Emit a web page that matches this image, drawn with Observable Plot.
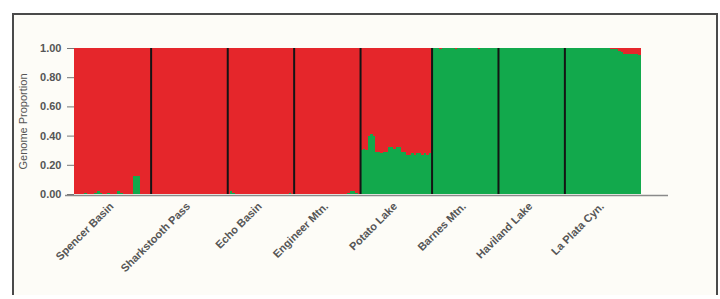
<!DOCTYPE html>
<html>
<head>
<meta charset="utf-8">
<script src="https://cdn.jsdelivr.net/npm/d3@7"></script>
<script src="https://cdn.jsdelivr.net/npm/@observablehq/plot@0.6"></script>
<style>
  html, body { margin: 0; padding: 0; background: #ffffff; }
  #wrap { position: relative; width: 720px; height: 299px; overflow: hidden; }
  #frame { position: absolute; left: 12px; top: 13px; width: 702px; height: 280px;
           border-left: 2px solid #4a4a4a; border-top: 2px solid #4a4a4a; border-right: 2px solid #4a4a4a;
           background: #fdfcf7; }
  #chart { position: absolute; left: 0; top: 0; }
</style>
</head>
<body>
<div id="wrap"><div id="frame"></div><div id="chart"></div></div>
<script>
// Populations (x-axis labels)
const populations = ["Spencer Basin", "Sharkstooth Pass", "Echo Basin", "Engineer Mtn.", "Potato Lake", "Barnes Mtn.", "Haviland Lake", "La Plata Cyn."];

// Green-cluster proportion per individual, one array per population (rest is red cluster)
const spencerBasin = [0,0,0,0,0.01,0,0,0,0.01,0.02,0.01,0,0,0.01,0,0,0,0.02,0.01,0,0,0,0,0.12,0.12,0.12,0,0,0,0];
const sharkstoothPass = [0,0,0,0,0,0,0,0,0,0,0,0,0,0,0,0,0,0,0,0,0,0,0,0,0,0,0,0,0,0];
const echoBasin = [0,0.02,0.01,0,0,0,0,0,0,0,0,0,0,0,0,0,0,0,0,0,0,0,0,0,0.01,0];
const engineerMtn = [0,0,0,0,0,0,0,0,0,0,0,0,0,0,0,0,0,0,0,0,0,0.01,0.02,0.02,0.01,0];
const potatoLake = [0.30,0.31,0.30,0.40,0.41,0.40,0.29,0.29,0.28,0.29,0.29,0.32,0.32,0.31,0.32,0.32,0.29,0.29,0.27,0.27,0.28,0.27,0.28,0.28,0.27,0.28,0.27,0.28];
const barnesMtn = [1,1,1,0.99,1,1,1,1,1,0.99,1,1,1,1,1,1,1,1,0.99,1,1,1,1,1,1,1];
const havilandLake = [1,1,1,1,1,1,1,1,1,1,1,1,1,1,1,1,1,1,1,1,1,1,1,1,1,1];
const laPlataCyn = [1,1,1,1,1,1,1,1,1,1,1,1,1,1,1,1,1,1,0.99,0.99,0.99,0.98,0.97,0.96,0.96,0.96,0.96,0.96,0.96,0.95];

// Y tick values
const yTicks = [0, 0.2, 0.4, 0.6, 0.8, 1.0];

const groups = [spencerBasin, sharkstoothPass, echoBasin, engineerMtn, potatoLake, barnesMtn, havilandLake, laPlataCyn];

// Build tables
const individuals = [];
const popRows = [];
let offset = 0;
groups.forEach((arr, g) => {
  popRows.push({name: populations[g], start: offset, end: offset + arr.length, center: offset + arr.length / 2});
  arr.forEach((q, j) => individuals.push({i: offset + j, q}));
  offset += arr.length;
});
const total = offset;
const boundaries = popRows.slice(1).map(d => d.start);

const RED = "#e5262b";
const GREEN = "#12a94c";
const TEXT = "#555555";

const chart = Plot.plot({
  width: 720,
  height: 299,
  marginLeft: 74,
  marginRight: 79,
  marginTop: 48,
  marginBottom: 105,
  style: {background: "transparent", fontFamily: "'Liberation Sans', Arial, sans-serif", color: TEXT},
  x: {domain: [0, total], axis: null},
  y: {domain: [0, 1]},
  marks: [
    Plot.rectY(popRows, {x1: "start", x2: "end", y1: 0, y2: 1, fill: RED, shapeRendering: "crispEdges"}),
    Plot.rectY(individuals.filter(d => d.q > 0), {x1: d => d.i, x2: d => d.i + 1, y1: 0, y2: "q", fill: GREEN, shapeRendering: "crispEdges"}),
    Plot.ruleX(boundaries, {stroke: "#141414", strokeWidth: 2}),
    Plot.ruleY([0], {stroke: "#8a8a8a", strokeWidth: 1.5, insetLeft: -9, insetRight: -27, dy: 1}),
    Plot.axisY({ticks: yTicks, tickFormat: d3.format(".2f"), tickSize: 7, tickPadding: 6, fontSize: 11, fontWeight: "bold", stroke: "#777", fill: TEXT,
                label: "Genome Proportion", labelAnchor: "center", labelArrow: "none", labelOffset: 55}),
    Plot.text(popRows, {x: "center", y: 0, text: "name", rotate: -45, textAnchor: "end", dy: 10, dx: -1, fontSize: 11, fontWeight: "bold", fill: TEXT})
  ]
});
chart.querySelectorAll("[aria-label='y-axis label'] text, [aria-label='y-axis label']").forEach(el => { el.setAttribute("font-weight", "normal"); el.style.fontWeight = "normal"; });
document.getElementById("chart").appendChild(chart);
</script>
</body>
</html>
